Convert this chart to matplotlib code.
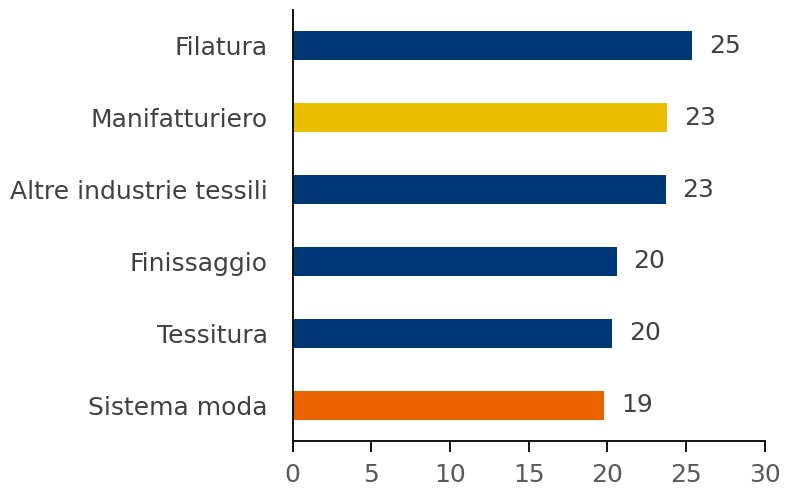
import matplotlib
matplotlib.use("Agg")
import matplotlib.pyplot as plt

categories = ["Filatura", "Manifatturiero", "Altre industrie tessili", "Finissaggio", "Tessitura", "Sistema moda"]
values = [25.4, 23.8, 23.7, 20.6, 20.3, 19.8]
value_labels = ["25", "23", "23", "20", "20", "19"]
colors = ["#003877", "#EBBE00", "#003877", "#003877", "#003877", "#EB6400"]
xticks = [0, 5, 10, 15, 20, 25, 30]

plt.rcParams['font.family'] = ['DejaVu Sans']
fig = plt.figure(figsize=(8, 4.88), dpi=100)
ax = fig.add_axes([0.366, 0.096, 0.59, 0.884])

y = list(range(len(categories)))
ax.barh(y, values, height=0.4, color=colors)
ax.set_ylim(len(categories) - 0.5, -0.5)
ax.set_xlim(0, 30)
ax.set_xticks(xticks)
ax.set_yticks(y)
ax.set_yticklabels(categories, fontsize=18, color="#404040")
ax.tick_params(axis='y', length=0, pad=18)
ax.tick_params(axis='x', length=8, width=1.3, color="black", labelsize=18, labelcolor="#595959", pad=8)
for s in ["top", "right"]:
    ax.spines[s].set_visible(False)
for s in ["left", "bottom"]:
    ax.spines[s].set_linewidth(1.3)
    ax.spines[s].set_color("black")

for yi, v, lab in zip(y, values, value_labels):
    ax.annotate(lab, (v, yi), xytext=(12, 0), textcoords="offset points",
                va="center", ha="left", fontsize=18, color="#404040")

fig.savefig("out.png", dpi=100)
